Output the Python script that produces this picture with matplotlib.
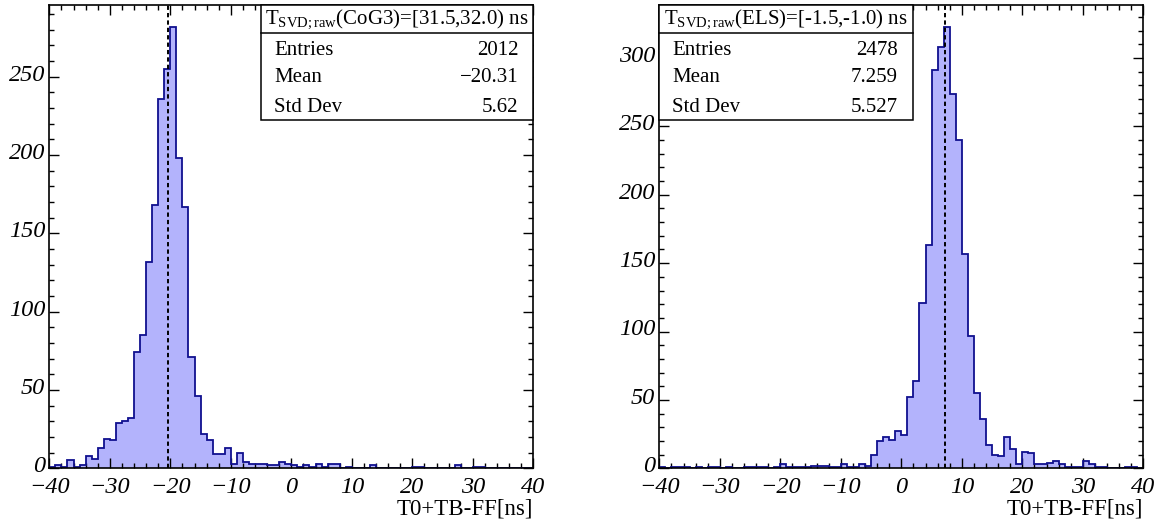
import numpy as np
import matplotlib
matplotlib.use("Agg")
import matplotlib.pyplot as plt
from matplotlib.patches import Rectangle
from matplotlib.ticker import MultipleLocator
from matplotlib.transforms import ScaledTranslation

plt.rcParams['font.family'] = ['Liberation Serif', 'DejaVu Serif']
plt.rcParams['mathtext.fontset'] = 'custom'
plt.rcParams['mathtext.rm'] = 'Liberation Serif'
plt.rcParams['mathtext.it'] = 'Liberation Serif:italic'

# ---------- data (bins of 1 ns from -40 to 40) ----------
bin_lo, bin_hi = -40, 40

cog3_counts = [1, 2, 1, 5, 1, 2, 8, 6, 13, 19,
               18, 29, 30, 32, 74, 85, 132, 168, 236, 255,
               282, 198, 167, 71, 46, 22, 18, 9, 9, 13,
               3, 10, 4, 3, 3, 3, 2, 2, 4, 3,
               2, 1, 2, 1, 3, 1, 3, 3, 0, 1,
               0, 0, 0, 2, 0, 0, 0, 0, 0, 0,
               1, 1, 0, 0, 0, 0, 0, 2, 0, 0,
               1, 1, 0, 0, 0, 0, 0, 0, 0, 0]

els_counts = [1, 0, 1, 1, 1, 0, 1, 0, 1, 1,
              0, 1, 0, 0, 1, 1, 1, 1, 0, 1,
              3, 1, 1, 1, 1, 2, 2, 2, 1, 1,
              3, 1, 1, 3, 2, 10, 20, 23, 21, 27,
              24, 52, 64, 121, 163, 291, 308, 323, 274, 240,
              157, 97, 55, 36, 17, 10, 9, 23, 14, 3,
              12, 11, 3, 3, 4, 5, 3, 1, 1, 1,
              5, 3, 1, 1, 0, 0, 0, 1, 1, 0]

titles = [r'$\mathregular{T_{SVD;raw}}$(CoG3)=[31.5,32.0) ns',
          r'$\mathregular{T_{SVD;raw}}$(ELS)=[-1.5,-1.0) ns']
entries = ['2012', '2478']
means = [-20.31, 7.259]
mean_txt = ['\u221220.31', '7.259']
stddev_txt = ['5.62', '5.527']
ymax = [296, 339]
yticks = [[0, 50, 100, 150, 200, 250], [0, 50, 100, 150, 200, 250, 300]]

xlabel = 'T0+TB-FF[ns]'
FILL = '#b3b3fc'
EDGE = '#10108f'

fig = plt.figure(figsize=(11.64, 5.29), dpi=100)
W, H = 1164, 529
ax_l = fig.add_axes([49.3/W, (529-468.3)/H, 484/W, 463.6/H])
ax_r = fig.add_axes([659.3/W, (529-468.3)/H, 484/W, 463.6/H])

edges = np.arange(bin_lo, bin_hi + 1)
lift = ScaledTranslation(0, 3/72, fig.dpi_scale_trans)

def draw_panel(ax, counts, top, ytk, mean, title, n, mtxt, stxt, box_x0, box_x1):
    counts = np.array(counts, dtype=float)
    ax.stairs(counts, edges, fill=True, color=FILL, zorder=1)
    ax.stairs(counts, edges, color=EDGE, lw=1.3, zorder=2, baseline=None)
    ax.plot([mean, mean], [0, top], color='k', ls=(0, (2.2, 1.6)), lw=1.4, zorder=3)
    ax.set_xlim(bin_lo, bin_hi); ax.set_ylim(0, top)
    ax.xaxis.set_major_locator(MultipleLocator(10)); ax.xaxis.set_minor_locator(MultipleLocator(2))
    ax.set_yticks(ytk); ax.yaxis.set_minor_locator(MultipleLocator(10))
    ax.tick_params(which='both', direction='in', top=True, right=True, width=1)
    ax.tick_params(which='major', length=7, labelsize=17.5)
    ax.tick_params(axis='y', pad=3); ax.tick_params(axis='x', pad=6)
    ax.tick_params(which='minor', length=3.5)
    for lab in ax.get_xticklabels() + ax.get_yticklabels(): lab.set_fontstyle('italic')
    for lab in ax.get_yticklabels(): lab.set_transform(lab.get_transform() + lift)
    for s in ax.spines.values(): s.set_linewidth(1.2)
    ax.text(1.0, -0.088, xlabel, transform=ax.transAxes, ha='right', va='center', fontsize=16.5)
    # stats box
    y_bot = (468.3-120)/463.6; y_mid = (468.3-33)/463.6
    ax.add_patch(Rectangle((box_x0, y_bot), box_x1-box_x0, 1-y_bot, transform=ax.transAxes,
                           facecolor='white', edgecolor='k', lw=1.1, zorder=5, clip_on=False))
    ax.plot([box_x0, box_x1], [y_mid, y_mid], transform=ax.transAxes, color='k', lw=1.1, zorder=6, clip_on=False)
    ax.text((box_x0+box_x1)/2, (1+y_mid)/2, title, transform=ax.transAxes, ha='center', va='center',
            fontsize=15, zorder=7)
    lx = box_x0 + 13/484; rx = box_x1 - 15/484
    for yy, lab, val in [((468.3-50)/463.6, 'Entries', n), ((468.3-77)/463.6, 'Mean', mtxt),
                         ((468.3-107)/463.6, 'Std Dev', stxt)]:
        ax.text(lx, yy, lab, transform=ax.transAxes, ha='left', va='center', fontsize=15, zorder=7)
        ax.text(rx, yy, val, transform=ax.transAxes, ha='right', va='center', fontsize=15, zorder=7)

draw_panel(ax_l, cog3_counts, ymax[0], yticks[0], means[0], titles[0], entries[0], mean_txt[0],
           stddev_txt[0], (261-49.3)/484, 1.0)
draw_panel(ax_r, els_counts, ymax[1], yticks[1], means[1], titles[1], entries[1], mean_txt[1],
           stddev_txt[1], 0.0, (913-659.3)/484)

fig.savefig('out.png', dpi=100)
